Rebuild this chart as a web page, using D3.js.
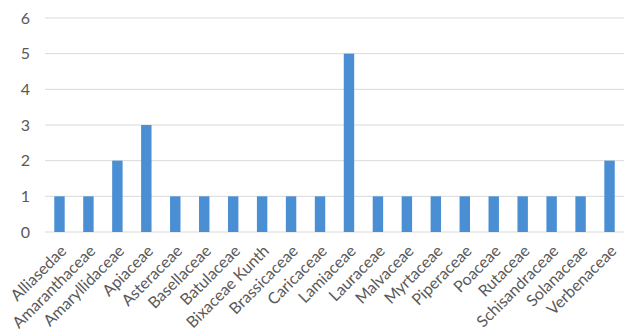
<!DOCTYPE html>
<html><head><meta charset="utf-8">
<script src="https://cdn.jsdelivr.net/npm/d3@7"></script>
<style>body{margin:0;background:#fff}svg{display:block}</style>
</head><body>
<script>
const categories = ["Alliasedae","Amaranthaceae","Amaryllidaceae","Apiaceae","Asteraceae","Basellaceae","Batulaceae","Bixaceae Kunth","Brassicaceae","Caricaceae","Lamiaceae","Lauraceae","Malvaceae","Myrtaceae","Piperaceae","Poaceae","Rutaceae","Schisandraceae","Solanaceae","Verbenaceae"];
const values = [1,1,2,3,1,1,1,1,1,1,5,1,1,1,1,1,1,1,1,2];
const yTicks = [0,1,2,3,4,5,6];

const W = 631, H = 332;
const m = {left:45, right:7, top:18, bottom:100};
const svg = d3.select("body").append("svg").attr("width",W).attr("height",H);
const x = d3.scaleBand().domain(categories).range([m.left, W-m.right]).paddingInner(0.64).paddingOuter(0.32);
const y = d3.scaleLinear().domain([0,6]).range([H-m.bottom, m.top]);

svg.append("g").selectAll("line").data(yTicks).join("line")
  .attr("x1",m.left).attr("x2",W-m.right)
  .attr("y1",d=>y(d)).attr("y2",d=>y(d))
  .attr("stroke","#d9d9d9").attr("stroke-width",1);

svg.append("g").selectAll("text").data(yTicks).join("text")
  .attr("x",30).attr("y",d=>y(d)).attr("dy","0.35em")
  .attr("text-anchor","end").attr("font-family","Lato, Carlito, sans-serif")
  .attr("font-size",16).attr("fill","#595959").text(d=>d);

svg.append("g").selectAll("rect").data(values).join("rect")
  .attr("x",(d,i)=>x(categories[i])).attr("width",x.bandwidth())
  .attr("y",d=>y(d)).attr("height",d=>y(0)-y(d))
  .attr("fill","#4a8fd4");

svg.append("g").selectAll("text").data(categories).join("text")
  .attr("transform",d=>`translate(${x(d)+x.bandwidth()/2+4},${y(0)+16}) rotate(-45)`)
  .attr("text-anchor","end").attr("dy","0.35em")
  .attr("font-family","Lato, Carlito, sans-serif").attr("font-size",16)
  .attr("fill","#595959").text(d=>d);
</script>
</body></html>
